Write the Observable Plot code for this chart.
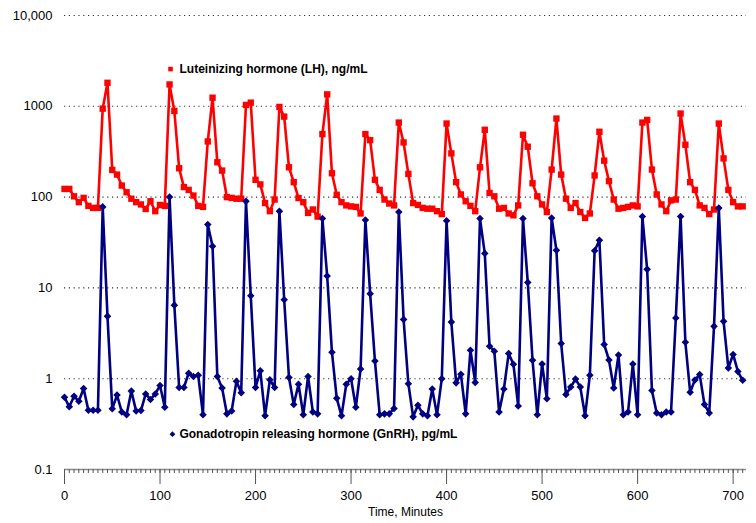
<!DOCTYPE html>
<html>
<head>
<meta charset="utf-8">
<script src="https://cdn.jsdelivr.net/npm/d3@7"></script>
<script src="https://cdn.jsdelivr.net/npm/@observablehq/plot@0.6"></script>
<style>
  html, body { margin: 0; padding: 0; background: #fff; }
  #chart { width: 756px; height: 523px; }
</style>
</head>
<body>
<div id="chart"></div>
<script>
// Sampling interval (minutes) and series values
const stepMinutes = 5;
const lhValues = [
  123, 123, 102, 88, 98, 80, 76, 76, 942, 1815,
  199, 177, 134, 113, 96, 88, 83, 74, 90, 70,
  82, 80, 1740, 889, 208, 129, 120, 104, 80, 78,
  410, 1244, 242, 196, 100, 98, 96, 96, 1035, 1097,
  155, 138, 86, 70, 94, 984, 770, 213, 146, 97.5,
  88, 67, 73, 61, 494, 1353, 183, 106, 88, 81,
  79, 78, 66, 494, 424, 155, 120, 94, 85, 81,
  662, 400, 180, 86, 82, 76, 74.5, 74.5, 70, 65,
  646, 303, 146, 107, 90, 80, 70, 213, 551, 111,
  102, 74.5, 76, 66, 63, 81, 486, 359, 142, 102,
  83, 68.5, 201, 733, 177, 96, 76, 86, 68.5, 59,
  66, 173, 524, 252, 150, 94, 74.5, 76, 78, 81,
  79, 662, 708, 201, 107, 83, 70, 92, 94, 832,
  377, 146, 120, 81, 76, 65, 73, 646, 267, 120,
  88, 79, 79
];
const gnrhValues = [
  0.625, 0.49, 0.64, 0.565, 0.78, 0.45, 0.45, 0.45, 78, 4.86,
  0.466, 0.66, 0.43, 0.40, 0.73, 0.44, 0.446, 0.68, 0.59, 0.68,
  0.84, 0.485, 100, 6.46, 0.80, 0.80, 1.15, 1.06, 1.09, 0.40,
  50, 28.8, 1.06, 0.79, 0.41, 0.44, 0.935, 0.70, 90, 8.2,
  0.80, 1.22, 0.39, 0.975, 0.80, 70, 7.4, 1.03, 0.52, 0.87,
  0.40, 1.06, 0.43, 0.41, 58, 13.5, 1.96, 0.61, 0.39, 0.87,
  1.0, 0.485, 1.28, 56, 8.6, 1.57, 0.40, 0.41, 0.41, 0.47,
  68.5, 4.5, 0.88, 0.38, 0.51, 0.41, 0.39, 0.77, 0.40, 1.0,
  55, 4.2, 0.90, 1.12, 0.41, 2.06, 0.91, 58, 24, 2.28,
  2.01, 0.43, 0.77, 1.89, 1.44, 0.50, 58, 11.5, 1.6, 0.40,
  1.45, 0.60, 59, 26, 2.44, 0.67, 0.81, 0.99, 0.81, 0.39,
  1.09, 25.6, 33.5, 2.38, 1.61, 0.79, 1.82, 0.40, 0.43, 1.45,
  0.40, 61, 16, 0.74, 0.42, 0.40, 0.43, 0.43, 4.65, 61,
  2.52, 0.71, 0.97, 1.11, 0.52, 0.42, 3.77, 76, 4.28, 1.31,
  1.85, 1.2, 0.96
];
const yTickValues = [0.1, 1, 10, 100, 1000, 10000];
const yTickLabels = ["0.1", "1", "10", "100", "1000", "10,000"];
const xTickValues = [0, 100, 200, 300, 400, 500, 600, 700];
const xLabel = "Time, Minutes";
const lhLabel = "Luteinizing hormone (LH), ng/mL";
const gnrhLabel = "Gonadotropin releasing hormone (GnRH), pg/mL";
// annotation anchors in data space
const lhLabelAt = {t: 111, v: 2570};
const gnrhLabelAt = {t: 113, v: 0.245};

const data = lhValues.map((lh, i) => ({t: i * stepMinutes, lh, gnrh: gnrhValues[i]}));
const minorTicks = d3.range(0, 715, stepMinutes);
const FONT = "'Liberation Sans', Arial, Helvetica, sans-serif";

const chart = Plot.plot({
  width: 756,
  height: 523,
  marginTop: 15,
  marginBottom: 54,
  marginLeft: 64,
  marginRight: 10,
  style: {fontFamily: FONT, fontSize: "13px", color: "#000", background: "#fff"},
  x: {domain: [0, 714]},
  y: {type: "log", domain: [0.1, 10000]},
  marks: [
    Plot.ruleY(yTickValues.filter(d => d > 0.1), {stroke: "#333", strokeWidth: 1.1, strokeDasharray: "1.2,3.6"}),
    Plot.ruleY([0.1], {stroke: "#8c8c8c", strokeWidth: 1.3}),
    Plot.axisY({ticks: yTickValues, tickSize: 0, tickPadding: 12, tickFormat: (d, i) => yTickLabels[yTickValues.indexOf(d)], label: null, fontSize: 13}),
    Plot.axisX({ticks: minorTicks, tickSize: 4, tickFormat: () => "", label: null, stroke: "#555"}),
    Plot.axisX({ticks: xTickValues, tickSize: 15, tickPadding: 6, label: null, stroke: "#555", fontSize: 13}),
    Plot.line(data, {x: "t", y: "lh", stroke: "#ff0000", strokeWidth: 2.6}),
    Plot.dot(data, {x: "t", y: "lh", symbol: "square", fill: "#ff0000", r: 3.6}),
    Plot.line(data, {x: "t", y: "gnrh", stroke: "#000080", strokeWidth: 2.6}),
    Plot.dot(data, {x: "t", y: "gnrh", symbol: "diamond2", fill: "#000080", r: 3.4}),
    Plot.dot([lhLabelAt], {x: "t", y: "v", symbol: "square", fill: "#ff0000", r: 2.6}),
    Plot.text([lhLabelAt], {x: "t", y: "v", text: () => lhLabel, textAnchor: "start", dx: 9, fontWeight: "bold", fontSize: 12, fill: "#000"}),
    Plot.dot([gnrhLabelAt], {x: "t", y: "v", symbol: "diamond2", fill: "#000080", r: 2.6}),
    Plot.text([gnrhLabelAt], {x: "t", y: "v", text: () => gnrhLabel, textAnchor: "start", dx: 7, fontWeight: "bold", fontSize: 12, fill: "#000"}),
    Plot.text([xLabel], {frameAnchor: "bottom", dy: 46, text: d => d, fontSize: 12, fill: "#000"})
  ]
});
document.getElementById("chart").appendChild(chart);
</script>
</body>
</html>
